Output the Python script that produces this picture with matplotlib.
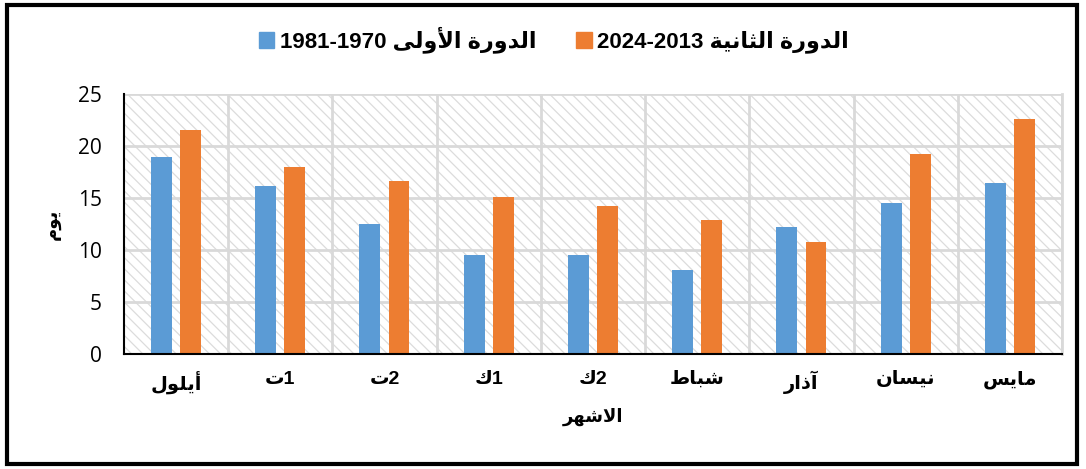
import re
import matplotlib
matplotlib.use("Agg")
import matplotlib.pyplot as plt
from matplotlib.patches import Rectangle, Patch
import numpy as np

# البيانات
months = ["أيلول", "ت1", "ت2", "ك1", "ك2", "شباط", "آذار", "نيسان", "مايس"]
first_period = [18.9, 16.1, 12.5, 9.55, 9.5, 8.05, 12.2, 14.5, 16.45]
second_period = [21.5, 18.0, 16.6, 15.1, 14.2, 12.85, 10.75, 19.2, 22.55]
series_labels = ["1981-1970 الدورة الأولى", "2024-2013 الدورة الثانية"]
x_title = "الاشهر"
y_title = "يوم"

# تشكيل الحروف العربية (matplotlib لا يربط الحروف)
# iso, fin, ini, med
FORMS = {
    'ا': (0xFE8D, 0xFE8E, None, None), 'أ': (0xFE83, 0xFE84, None, None),
    'آ': (0xFE81, 0xFE82, None, None), 'إ': (0xFE87, 0xFE88, None, None),
    'ب': (0xFE8F, 0xFE90, 0xFE91, 0xFE92), 'ة': (0xFE93, 0xFE94, None, None),
    'ت': (0xFE95, 0xFE96, 0xFE97, 0xFE98), 'ث': (0xFE99, 0xFE9A, 0xFE9B, 0xFE9C),
    'د': (0xFEA9, 0xFEAA, None, None), 'ذ': (0xFEAB, 0xFEAC, None, None),
    'ر': (0xFEAD, 0xFEAE, None, None), 'س': (0xFEB1, 0xFEB2, 0xFEB3, 0xFEB4),
    'ش': (0xFEB5, 0xFEB6, 0xFEB7, 0xFEB8), 'ط': (0xFEC1, 0xFEC2, 0xFEC3, 0xFEC4),
    'ك': (0xFED9, 0xFEDA, 0xFEDB, 0xFEDC), 'ل': (0xFEDD, 0xFEDE, 0xFEDF, 0xFEE0),
    'م': (0xFEE1, 0xFEE2, 0xFEE3, 0xFEE4), 'ن': (0xFEE5, 0xFEE6, 0xFEE7, 0xFEE8),
    'ه': (0xFEE9, 0xFEEA, 0xFEEB, 0xFEEC), 'و': (0xFEED, 0xFEEE, None, None),
    'ى': (0xFEEF, 0xFEF0, None, None), 'ي': (0xFEF1, 0xFEF2, 0xFEF3, 0xFEF4),
}
LAMALEF = {'ا': (0xFEFB, 0xFEFC), 'أ': (0xFEF7, 0xFEF8),
           'آ': (0xFEF5, 0xFEF6), 'إ': (0xFEF9, 0xFEFA)}


def shape(word):
    out = []
    prev_joins = False
    i = 0
    while i < len(word):
        c = word[i]
        if c not in FORMS:
            out.append(c)
            prev_joins = False
            i += 1
            continue
        if c == 'ل' and i + 1 < len(word) and word[i + 1] in LAMALEF:
            iso, fin = LAMALEF[word[i + 1]]
            out.append(chr(fin if prev_joins else iso))
            prev_joins = False
            i += 2
            continue
        f = FORMS[c]
        nxt = word[i + 1] if i + 1 < len(word) else ''
        links = f[2] is not None and nxt in FORMS
        if prev_joins and links:
            g = f[3]
        elif prev_joins:
            g = f[1]
        elif links:
            g = f[2]
        else:
            g = f[0]
        out.append(chr(g))
        prev_joins = f[2] is not None
        i += 1
    return ''.join(out)


def ar(s):
    return re.sub(r'[\u0600-\u06FF]+(?: [\u0600-\u06FF]+)*',
                  lambda m: shape(m.group(0))[::-1], s)


fam = ['Liberation Sans', 'DejaVu Sans']
plt.rcParams['font.family'] = fam
plt.rcParams['hatch.linewidth'] = 0.9

fig = plt.figure(figsize=(10.86, 4.69), dpi=100)
ax = fig.add_axes([0.114, 0.245, 0.864, 0.555])

x = np.arange(len(months))
w = 0.2
ax.bar(x - 0.14, first_period, w, color='#5b9bd5', zorder=3)
ax.bar(x + 0.14, second_period, w, color='#ed7d31', zorder=3)

ax.set_xlim(-0.5, len(months) - 0.5)
ax.set_ylim(0, 25)
ax.set_yticks(range(0, 26, 5))

# خلفية مخططة
ax.add_patch(Rectangle((0, 0), 1, 1, transform=ax.transAxes, facecolor='white',
                       edgecolor='#dcdcdc', hatch='\\\\\\', linewidth=0, zorder=0))

for y in range(5, 26, 5):
    ax.axhline(y, color='#d9d9d9', lw=2, zorder=1)
for xb in np.arange(0.5, len(months), 1):
    ax.axvline(xb, color='#d9d9d9', lw=2, zorder=1)

ax.spines['top'].set_visible(False)
ax.spines['right'].set_color('#d9d9d9')
ax.spines['right'].set_linewidth(2)
ax.spines['left'].set_linewidth(1.5)
ax.spines['bottom'].set_linewidth(1.5)
ax.spines['left'].set_zorder(4)
ax.spines['bottom'].set_zorder(4)

ax.set_xticks(x)
ax.set_xticklabels([ar(m) for m in months], fontsize=14, fontweight='bold')
ax.tick_params(axis='x', length=0, pad=12)
ax.tick_params(axis='y', length=0, labelsize=15, pad=16)
for t in ax.get_yticklabels():
    t.set_family(['Open Sans', 'DejaVu Sans'])

ax.set_xlabel(ar(x_title), fontsize=13, fontweight='bold', labelpad=10)
ax.set_ylabel(ar(y_title), fontsize=13, fontweight='bold', labelpad=12)

handles = [Patch(color='#5b9bd5'), Patch(color='#ed7d31')]
fig.legend(handles, [ar(l) for l in series_labels], loc='center',
           bbox_to_anchor=(0.51, 0.915), ncol=2, frameon=False,
           prop={'size': 16, 'weight': 'bold', 'family': fam},
           handlelength=0.7, handleheight=0.7, handletextpad=0.25,
           columnspacing=1.8)

fig.patches.append(Rectangle((0.006, 0.01), 0.986, 0.98, transform=fig.transFigure,
                             fill=False, edgecolor='black', linewidth=3))

fig.savefig('out.png', dpi=100)
